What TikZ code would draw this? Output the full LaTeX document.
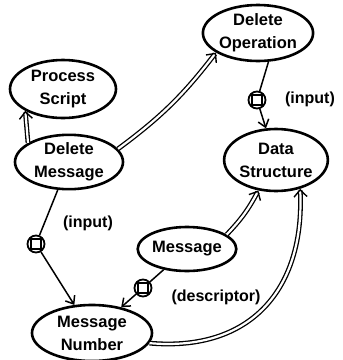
\documentclass[tikz,border=0pt]{standalone}
\usepackage{fontspec}
\setmainfont{Liberation Sans}
\usetikzlibrary{shapes.geometric,arrows.meta}
\begin{document}
\begin{tikzpicture}[x=1pt,y=-1pt,
  ell/.style={ellipse,draw,line width=2.6pt,inner sep=0pt,align=center,
    font=\fontsize{16.5}{23}\selectfont\bfseries},
  lbl/.style={font=\fontsize{16}{18}\selectfont\bfseries,inner sep=0pt},
  marker/.style={circle,draw,line width=1.8pt,minimum size=17pt,inner sep=0pt,fill=white,
    path picture={\draw[line width=1.5pt] ([shift={(-5pt,-5pt)}]path picture bounding box.center) rectangle ++(10pt,10pt);}},
  single/.style={line width=1.5pt,-{Straight Barb[length=7pt,width=11pt,line width=1.5pt]}},
  dbl/.style={double=white,double distance=2.2pt,line width=1.3pt,-{Straight Barb[length=7pt,width=13pt,line width=1.4pt]}}
]
\useasboundingbox (0,0) rectangle (343,360);
\node[ell,minimum width=106pt,minimum height=58pt] (ps) at (63,89) {Process\\Script};
\node[ell,minimum width=108pt,minimum height=52pt] (dm) at (69,162) {Delete\\Message};
\node[ell,minimum width=100pt,minimum height=56pt] (do) at (258,33) {Delete\\Operation};
\node[ell,minimum width=102pt,minimum height=62pt] (ds) at (276,160) {Data\\Structure};
\node[ell,minimum width=90pt,minimum height=44pt] (msg) at (187,249) {Message};
\node[ell,minimum width=120pt,minimum height=56pt] (mn) at (92,333) {Message\\Number};

\node[marker] (m1) at (36,244) {};
\node[marker] (m2) at (143,288) {};
\node[marker] (m3) at (257,100) {};

\node[lbl] (l1) at (88,223) {(input)};
\node[lbl] (l2) at (310,99) {(input)};
\node[lbl] (l3) at (216,297) {(descriptor)};

\draw[dbl] (dm.155) -- (ps.210);
\draw[dbl] (dm.15) to[bend right=8] (do.205);
\draw[dbl] (msg.20) to[bend right=8] (ds.240);
\draw[dbl] (mn.350) .. controls (250,352) and (305,290) .. (ds.310);
\draw[single] (do.290) -- (m3) -- (ds);
\draw[single] (dm) -- (m1) -- (mn);
\draw[single] (msg) -- (m2) -- (mn);
\end{tikzpicture}
\end{document}
